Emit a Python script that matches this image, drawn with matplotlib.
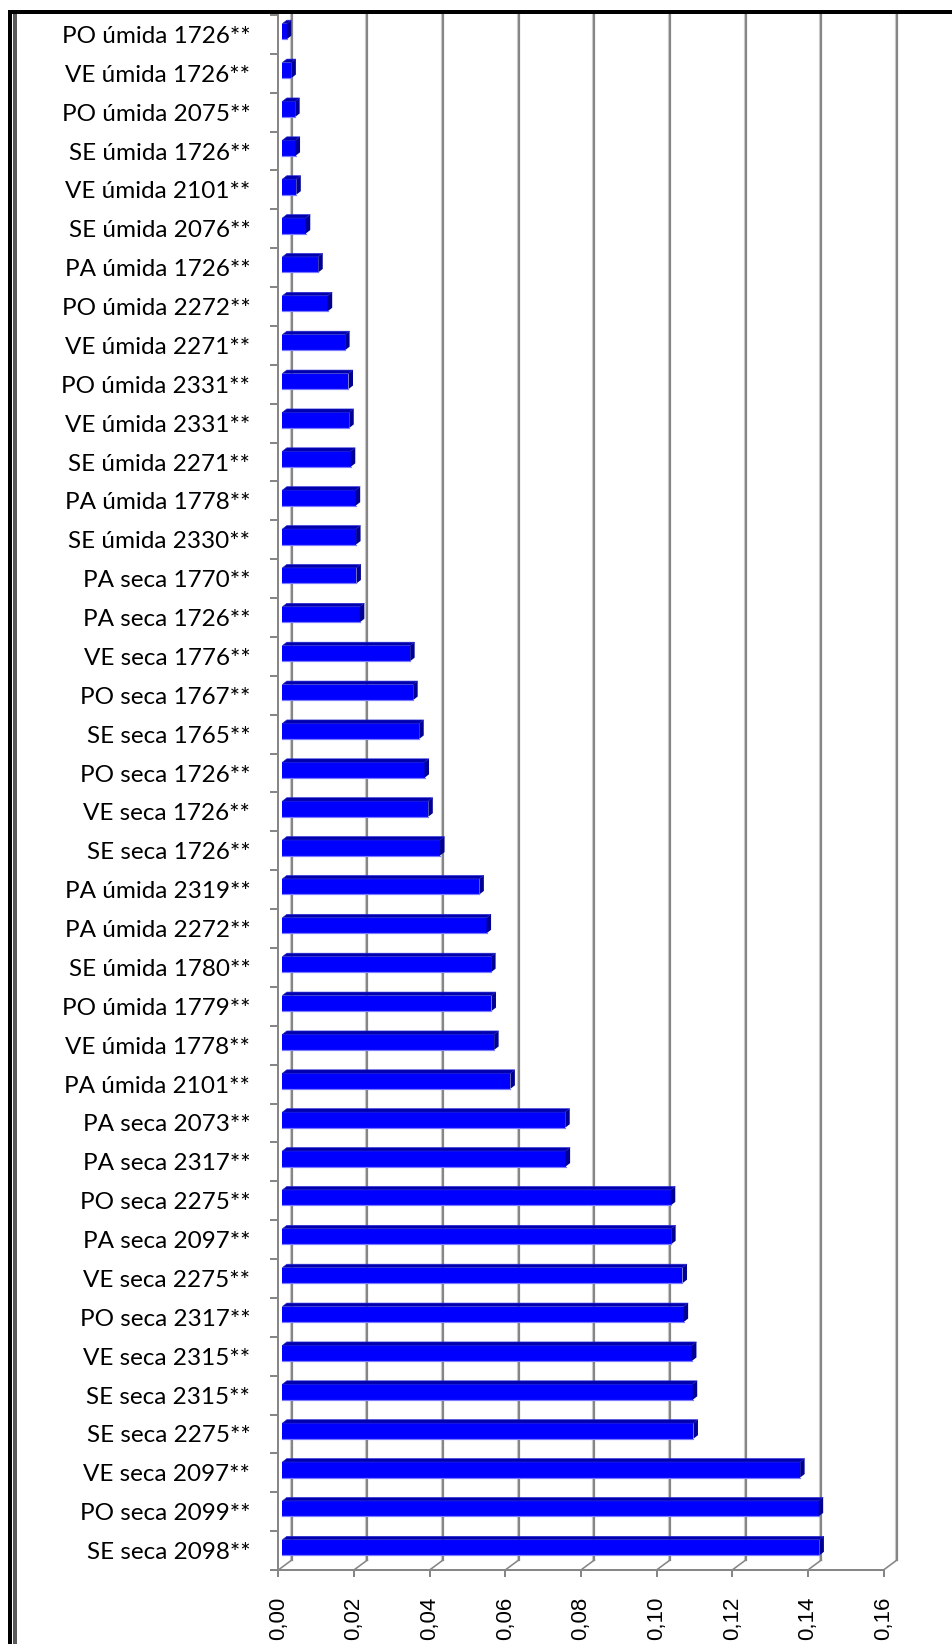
import matplotlib
matplotlib.use("Agg")
import matplotlib.pyplot as plt
from matplotlib.patches import Polygon, Rectangle
from matplotlib.lines import Line2D
from matplotlib.ticker import FuncFormatter

# ---- data -------------------------------------------------------------
categories = [
    "PO úmida 1726**", "VE úmida 1726**", "PO úmida 2075**", "SE úmida 1726**",
    "VE úmida 2101**", "SE úmida 2076**", "PA úmida 1726**", "PO úmida 2272**",
    "VE úmida 2271**", "PO úmida 2331**", "VE úmida 2331**", "SE úmida 2271**",
    "PA úmida 1778**", "SE úmida 2330**", "PA seca 1770**", "PA seca 1726**",
    "VE seca 1776**", "PO seca 1767**", "SE seca 1765**", "PO seca 1726**",
    "VE seca 1726**", "SE seca 1726**", "PA úmida 2319**", "PA úmida 2272**",
    "SE úmida 1780**", "PO úmida 1779**", "VE úmida 1778**", "PA úmida 2101**",
    "PA seca 2073**", "PA seca 2317**", "PO seca 2275**", "PA seca 2097**",
    "VE seca 2275**", "PO seca 2317**", "VE seca 2315**", "SE seca 2315**",
    "SE seca 2275**", "VE seca 2097**", "PO seca 2099**", "SE seca 2098**",
]
values = [
    0.0012, 0.0024, 0.0034, 0.0035, 0.0037, 0.0062, 0.0095, 0.0120,
    0.0166, 0.0175, 0.0177, 0.0181, 0.0194, 0.0195, 0.0196, 0.0205,
    0.0338, 0.0346, 0.0362, 0.0376, 0.0386, 0.0417, 0.0521, 0.0540,
    0.0552, 0.0553, 0.0560, 0.0603, 0.0748, 0.0749, 0.1027, 0.1028,
    0.1058, 0.1061, 0.1083, 0.1085, 0.1087, 0.1369, 0.1418, 0.1420,
]
x_ticks = [0.00, 0.02, 0.04, 0.06, 0.08, 0.10, 0.12, 0.14, 0.16]

# ---- figure / axes geometry (pixels) ----------------------------------
W, H, DPI = 952, 1644, 100
fig = plt.figure(figsize=(W / DPI, H / DPI), dpi=DPI)
fig.patch.set_facecolor("white")

AX_LEFT, AX_RIGHT = 278.3, 883.5
AX_TOP, AX_BOTTOM = 15.0, 1570.0
ax = fig.add_axes([AX_LEFT / W, 1 - AX_BOTTOM / H,
                   (AX_RIGHT - AX_LEFT) / W, (AX_BOTTOM - AX_TOP) / H])
ax.set_facecolor("none")

n = len(categories)
XMAX = x_ticks[-1]
ax.set_xlim(0, XMAX)
ax.set_ylim(n - 0.5, -0.5)

px_x = (AX_RIGHT - AX_LEFT) / XMAX      # pixels per value unit
px_y = (AX_BOTTOM - AX_TOP) / n         # pixels per category


def dxu(px):
    return px / px_x


def dyu(px):
    return px / px_y


PT = 72.0 / DPI  # points per pixel
AXIS_GRAY = "#868686"

# ---- back wall grid + floor lines (3-D look) --------------------------
WALL_DX, WALL_DY = 13.5, 10.0
y_floor = n - 0.5
y_top = -0.5 - dyu(WALL_DY) - dyu(2)
for v in x_ticks:
    xb = v + dxu(WALL_DX)
    yb = y_floor - dyu(WALL_DY)
    # light shading beside each wall line
    ax.add_line(Line2D([xb - dxu(2), xb - dxu(2)], [yb, y_top],
                       color="#d2d2d2", lw=1.2 * PT, clip_on=False, zorder=1))
    ax.add_line(Line2D([xb, xb], [yb, y_top], color=AXIS_GRAY,
                       lw=2.2 * PT, clip_on=False, zorder=1.5))
    ax.add_line(Line2D([v, xb], [y_floor, yb], color=AXIS_GRAY,
                       lw=1.6 * PT, clip_on=False, zorder=1.5))

# ---- bars ---------------------------------------------------------------
BAR_DX, BAR_DY = 4.0, 3.0          # front face offset from front plane
DEPTH_DX, DEPTH_DY = 4.5, 3.5      # bar depth
bar_h = dyu(15.5)
x0 = dxu(BAR_DX)
ddx, ddy = dxu(DEPTH_DX), dyu(DEPTH_DY)
ys = [i - dyu(BAR_DY) for i in range(n)]

ax.barh(ys, values, height=bar_h, left=x0, color="#0000FF",
        edgecolor="none", zorder=3)
for yc, v in zip(ys, values):
    yt, yb = yc - bar_h / 2, yc + bar_h / 2
    top = Polygon([(x0, yt), (x0 + v, yt), (x0 + v + ddx, yt - ddy),
                   (x0 + ddx, yt - ddy)], closed=True,
                  facecolor="#0000AC", edgecolor="#2a2ad8", lw=0.6 * PT, zorder=3)
    side = Polygon([(x0 + v, yt), (x0 + v, yb), (x0 + v + ddx, yb - ddy),
                    (x0 + v + ddx, yt - ddy)], closed=True,
                   facecolor="#000094", edgecolor="none", zorder=3)
    ax.add_patch(top)
    ax.add_patch(side)
    ax.add_line(Line2D([x0, x0 + v], [yb, yb], color="#7C7CFF",
                       lw=1.2 * PT, zorder=3.5))

# ---- axes styling -----------------------------------------------------
for s in ("top", "right"):
    ax.spines[s].set_visible(False)
for s in ("left", "bottom"):
    ax.spines[s].set_color(AXIS_GRAY)
    ax.spines[s].set_linewidth(2 * PT)
    ax.spines[s].set_zorder(4)

ax.set_yticks([i - 0.5 for i in range(n + 1)])
ax.set_yticklabels([])
ax.tick_params(axis="y", which="major", length=8 * PT, width=2 * PT,
               color=AXIS_GRAY, direction="out")
ax.set_yticks(range(n), labels=categories, minor=True)
ax.tick_params(axis="y", which="minor", length=0, pad=28 * PT,
               labelsize=17.5, labelcolor="#000000")
for lab in ax.get_yticklabels(minor=True):
    lab.set_family(["Lato", "DejaVu Sans"])

ax.set_xticks(x_ticks)
ax.xaxis.set_major_formatter(FuncFormatter(lambda v, p: f"{v:.2f}".replace(".", ",")))
ax.tick_params(axis="x", length=7 * PT, width=2 * PT, color=AXIS_GRAY,
               direction="out", pad=20 * PT, labelsize=16, labelrotation=90,
               labelcolor="#000000")
for lab in ax.get_xticklabels():
    lab.set_family(["Liberation Sans", "DejaVu Sans"])

# ---- frame around the chart -------------------------------------------
def px_rect(x, y, w, h, color, z=10):
    fig.add_artist(Rectangle((x / W, 1 - (y + h) / H), w / W, h / H,
                             transform=fig.transFigure, facecolor=color,
                             edgecolor="none", zorder=z))

px_rect(0, 0, W, 10, "white")
px_rect(8, 10, W - 8, 4.2, "black", 11)
px_rect(8, 10, 4.2, H - 10, "black", 11)
px_rect(13.2, 14, 3.6, H - 14, "#5a5a5a", 11)

fig.savefig("out.png", dpi=DPI, facecolor="white")
